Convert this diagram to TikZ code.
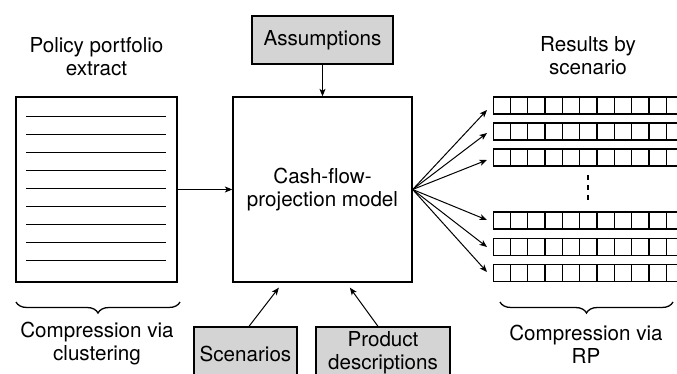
\documentclass[tikz,border=0pt]{standalone}
\usepackage{fontspec}
\setmainfont{TeX Gyre Heros}
\usetikzlibrary{arrows.meta,calc,decorations.pathreplacing}
\begin{document}
\begin{tikzpicture}[x=1pt,y=-1pt,
  txt/.style={font=\fontsize{20.6}{23}\selectfont, align=center, inner sep=0pt},
  whitebox/.style={draw, line width=1.3pt, fill=white, inner sep=0pt},
  graybox/.style={draw, line width=1.3pt, fill=black!17, align=center, inner sep=0pt,
    font=\fontsize{20.6}{23}\selectfont},
  rowbox/.style={draw, line width=1.3pt, anchor=west, minimum width=200pt, minimum height=17pt, inner sep=0pt},
  conn/.style={line width=1pt, -{Stealth[length=7.5pt,width=6pt,inset=2pt]}},
  bracestyle/.style={line width=1.3pt, decorate, decoration={brace,mirror,amplitude=11pt}}
]
\useasboundingbox (0,0) rectangle (677,374);
\begin{scope}
\clip (0,0) rectangle (677,374);

% titles
\node[txt] (ttl) at (96.5,57) {Policy portfolio\\extract};
\node[txt] (ttr) at (588,56) {Results by\\scenario};

% left box with lines
\node[whitebox, minimum width=161pt, minimum height=185pt] (pp) at (96.5,189.5) {};
\foreach \k in {0,...,8} {
  \draw[line width=1.2pt] ($(pp.north west)+(11,20+18*\k)$) -- ($(pp.north east)+(-12,20+18*\k)$);
}

% central model
\node[whitebox, minimum width=179pt, minimum height=185pt, txt, draw, line width=1.3pt] (cf) at (322.5,189.5) {Cash-flow-\\projection model};

% assumptions
\node[graybox, minimum width=141pt, minimum height=48pt] (as) at (322.5,40) {Assumptions};

% bottom inputs
\node[graybox, minimum width=103pt, minimum height=54pt] (sc) at (245.5,354) {Scenarios};
\node[graybox, minimum width=134pt, minimum height=51pt] (pd) at (383,352.5) {Product\\descriptions};

% connectors into model
\draw[conn] (pp.east) -- (cf.west);
\draw[conn] (as.south) -- (cf.north);
\coordinate (sce) at ($(cf.south west)+(46.5,5)$);
\coordinate (pde) at ($(cf.south west)+(117.5,5)$);
\draw[conn] ($(sc.north)+(3.5,0)$) -- (sce);
\draw[conn] ($(pd.north)+(-5,0)$) -- (pde);

% result rows
\foreach \n/\y in {1/105.5,2/131.5,3/157.5,4/220.5,5/247,6/273} {
  \node[rowbox] (r\n) at (493,\y) {};
  \foreach \k in {1,...,10} {
    \draw[line width=1.3pt] ($(r\n.north west)+(17.33*\k,0)$) -- ($(r\n.south west)+(17.33*\k,0)$);
  }
}

% arrows to rows
\foreach \n/\d in {1/4.5,2/1.5,3/2.5,4/-0.5,5/0,6/-1} {
  \coordinate (t\n) at ($(r\n.west)+(-6,\d)$);
  \draw[conn] (cf.east) -- (t\n);
}

% vertical dots
\coordinate (dA) at (588,175);
\coordinate (dB) at (588,204);
\draw[line width=2pt, dash pattern=on 5.5pt off 4.5pt] (dA) -- (dB);

% braces
\coordinate (bl1) at (16,302);
\coordinate (bl2) at (180,302);
\coordinate (br1) at (500,302);
\coordinate (br2) at (673,302);
\draw[bracestyle] (bl1) -- (bl2);
\draw[bracestyle] (br1) -- (br2);

% bottom texts
\node[txt] (cl) at (97,344) {Compression via\\clustering};
\node[txt] (rp) at (586,344) {Compression via\\RP};
\end{scope}
\end{tikzpicture}
\end{document}
